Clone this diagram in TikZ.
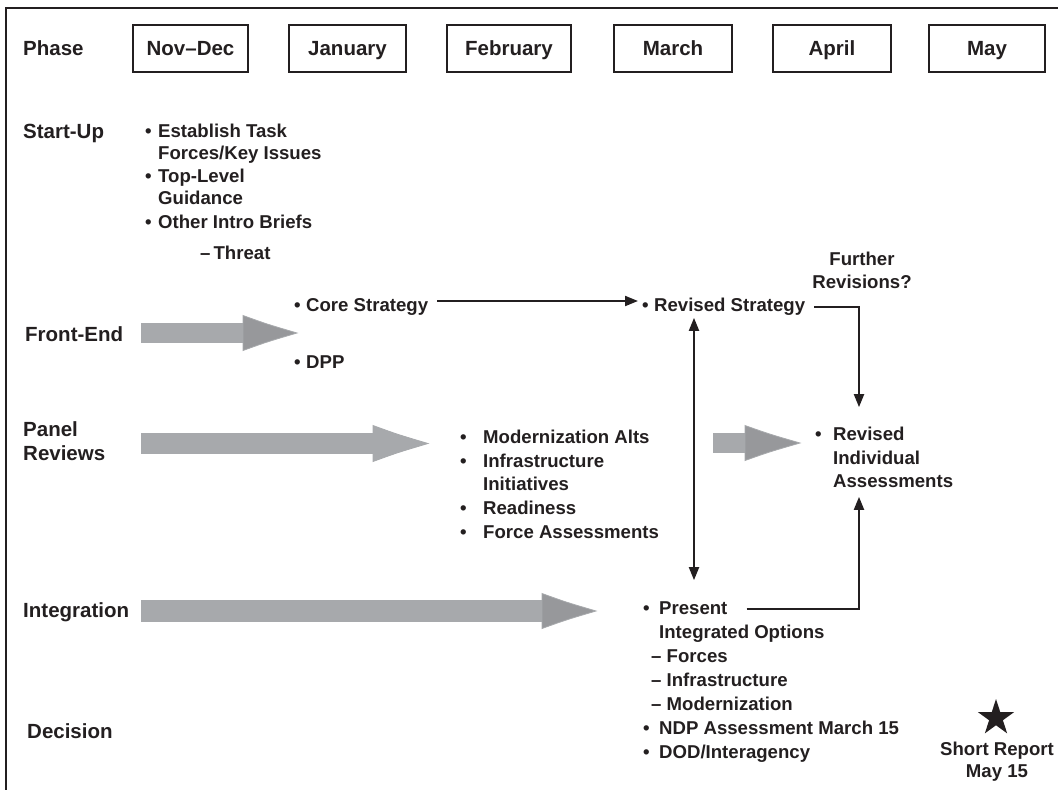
\documentclass[tikz,border=0pt]{standalone}
\usepackage{fontspec}
\setmainfont{Liberation Sans}
\usetikzlibrary{arrows.meta,shapes.geometric}
\definecolor{ink}{HTML}{231F20}
\definecolor{shaftgray}{HTML}{A7A9AC}
\definecolor{headgray}{HTML}{97989B}
\newcommand\bodyfont{\bfseries\fontsize{18.6}{22}\selectfont}
\newcommand\labelfont{\bfseries\fontsize{20.5}{24}\selectfont}
\newcommand\blt[1]{\makebox[#1][l]{\textbullet}}
\newcommand\grayarrow[7]{%
  \fill[shaftgray] (#1,#4-#5) rectangle (#2,#4+#5);
  \fill[#7, draw=shaftgray, line width=0.8pt] (#2,#4-#6) .. controls ({#2+0.45*(#3-#2)},{#4-0.5*#6}) .. (#3,#4) .. controls ({#2+0.45*(#3-#2)},{#4+0.5*#6}) .. (#2,#4+#6) -- cycle;
}
\begin{document}
\begin{tikzpicture}[x=1pt,y=-1pt,
  txt/.style={anchor=west, inner sep=0pt, text height=13.3pt, text depth=0pt, font=\bodyfont, text=ink},
  lbl/.style={anchor=west, inner sep=0pt, text height=14.7pt, text depth=0pt, font=\labelfont, text=ink},
  month/.style={draw=ink, line width=2pt, minimum height=47pt, inner sep=0pt, text height=14.7pt, text depth=0pt, font=\labelfont, text=ink},
  conn/.style={draw=ink, line width=2pt, -{Triangle[length=13pt,width=10pt]}},
  conn2/.style={draw=ink, line width=2pt, {Triangle[length=13pt,width=10pt]}-{Triangle[length=13pt,width=10pt]}},
]
\useasboundingbox (0,0) rectangle (1058,790);
\draw[ink, line width=2.5pt] (6,790) -- (6,8) -- (1058,8);

% header
\node[lbl] (phase) at (23,48) {Phase};
\node[month, minimum width=115pt] (m1) at (190.5,48.5) {Nov--Dec};
\node[month, minimum width=117pt] (m2) at (347.5,48.5) {January};
\node[month, minimum width=124pt] (m3) at (509,48.5) {February};
\node[month, minimum width=118pt] (m4) at (673,48.5) {March};
\node[month, minimum width=118pt] (m5) at (832,48.5) {April};
\node[month, minimum width=116pt] (m6) at (987,48.5) {May};

% start-up
\node[lbl] (startup) at (23,131) {Start-Up};
\node[txt] (s1) at (145,131) {\blt{13pt}Establish Task};
\node[txt] (s2) at (158,153) {Forces/Key Issues};
\node[txt] (s3) at (145,176) {\blt{13pt}Top-Level};
\node[txt] (s4) at (158,198) {Guidance};
\node[txt] (s5) at (145,222) {\blt{13pt}Other Intro Briefs};
\node[txt] (s6) at (200,253) {--\,Threat};

% front-end
\node[lbl] (frontend) at (25,334) {Front-End};
\grayarrow{141}{243}{297}{333}{10}{17.5}{headgray}
\node[txt] (core) at (294,305) {\blt{12pt}Core Strategy};
\node[txt] (dpp) at (294,362) {\blt{12pt}DPP};
\node[txt] (revstrat) at (642,305) {\blt{12pt}Revised Strategy};
\node[txt, anchor=center] (further1) at (862,259) {Further};
\node[txt, anchor=center] (further2) at (862,282) {Revisions?};

% panel reviews
\node[lbl] (panel1) at (23,429) {Panel};
\node[lbl] (panel2) at (23,453) {Reviews};
\grayarrow{141}{373}{428}{443.5}{10.5}{18}{shaftgray}
\node[txt] (p1) at (460,437) {\blt{23pt}Modernization Alts};
\node[txt] (p2) at (460,461) {\blt{23pt}Infrastructure};
\node[txt] (p3) at (483,484) {Initiatives};
\node[txt] (p4) at (460,508) {\blt{23pt}Readiness};
\node[txt] (p5) at (460,532) {\blt{23pt}Force Assessments};
\grayarrow{713}{745}{800}{443}{10}{17.5}{headgray}
\node[txt] (revind1) at (815,434) {\blt{18pt}Revised};
\node[txt] (revind2) at (833,458) {Individual};
\node[txt] (revind3) at (833,481) {Assessments};

% integration
\node[lbl] (integ) at (23,610) {Integration};
\grayarrow{141}{542}{596}{611}{11}{17.5}{headgray}
\node[txt] (present) at (643,608) {\blt{16pt}Present};
\node[txt] (i2) at (659,632) {Integrated Options};
\node[txt] (i3) at (651,656) {--\ Forces};
\node[txt] (i4) at (651,680) {--\ Infrastructure};
\node[txt] (i5) at (651,704) {--\ Modernization};
\node[txt] (i6) at (643,728) {\blt{16pt}NDP Assessment March 15};
\node[txt] (i7) at (643,752) {\blt{16pt}DOD/Interagency};

% decision
\node[lbl] (decision) at (27,731) {Decision};
\node[star, star points=5, star point ratio=2.618, fill=ink, minimum size=38pt, inner sep=0pt] (star) at (996,718) {};
\node[txt, anchor=center] (short1) at (997,749) {Short Report};
\node[txt, anchor=center] (short2) at (997,771) {May 15};

% connectors
\draw[conn] ([xshift=9pt,yshift=4pt]core.east) -- ([xshift=-4pt,yshift=4pt]revstrat.west);
\draw[conn] ([xshift=9pt,yshift=-2pt]revstrat.east) -| ([xshift=44pt,yshift=20pt]revind1.north west);
\draw[conn2] ([xshift=52pt,yshift=-6pt]revstrat.south west) -- ([xshift=51pt,yshift=21pt]present.north west);
\draw[conn] ([xshift=19pt,yshift=-1pt]present.east) -| ([xshift=26pt,yshift=-9pt]revind3.south west);
\end{tikzpicture}
\end{document}
